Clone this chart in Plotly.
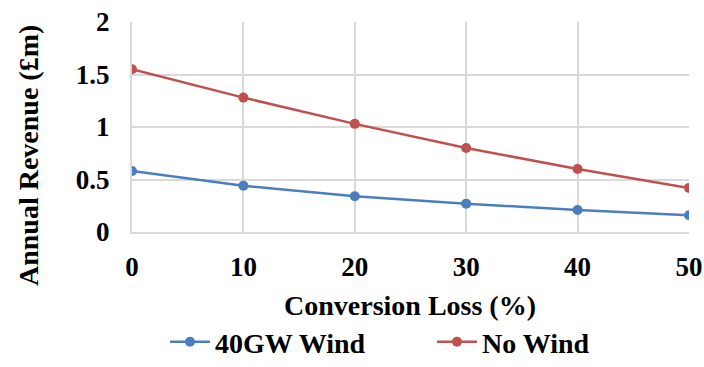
import plotly.graph_objects as go

# conversion loss (%) on the x axis
conversion_loss = [0, 10, 20, 30, 40, 50]
x_tick_labels = ["0", "10", "20", "30", "40", "50"]

# annual revenue (£m) per scenario
wind_40gw = [0.58, 0.44, 0.34, 0.27, 0.21, 0.16]
no_wind = [1.55, 1.28, 1.03, 0.80, 0.60, 0.42]

y_ticks = [0, 0.5, 1, 1.5, 2]
y_tick_labels = ["0", "0.5", "1", "1.5", "2"]

FONT = "Liberation Serif"
BLUE = "#4A7EBF"
RED = "#C0504D"
GRID = "#D9D9D9"

W, H = 704, 367
# plot area in pixels (left, right, top, bottom)
L, R, T, B = 132, 689, 22, 232
PW, PH = R - L, B - T


def px_x(x):
    return (x - L) / PW


def px_y(y):
    return (B - y) / PH


fig = go.Figure()
fig.add_trace(go.Scatter(
    x=conversion_loss, y=wind_40gw, name="<b>40GW Wind</b>",
    mode="lines+markers",
    line=dict(color=BLUE, width=2.5),
    marker=dict(color=BLUE, size=10),
))
fig.add_trace(go.Scatter(
    x=conversion_loss, y=no_wind, name="<b>No Wind</b>",
    mode="lines+markers",
    line=dict(color=RED, width=2.5),
    marker=dict(color=RED, size=10),
))

fig.update_layout(
    width=W, height=H,
    margin=dict(l=L, r=W - R, t=T, b=H - B, autoexpand=False),
    paper_bgcolor="white", plot_bgcolor="white",
    font=dict(family=FONT, color="black", size=27),
    showlegend=True,
    legend=dict(
        orientation="h", x=px_x(165), xanchor="left",
        y=px_y(367), yanchor="bottom",
        font=dict(family=FONT, size=28, color="black"),
        itemwidth=40, tracegroupgap=0,
        entrywidth=212, entrywidthmode="pixels",
    ),
    annotations=[
        dict(text="<b>Annual Revenue (£m)</b>", textangle=-90,
             xref="paper", yref="paper",
             x=px_x(28), y=px_y(156),
             xanchor="center", yanchor="middle", showarrow=False,
             font=dict(family=FONT, size=28, color="black")),
        dict(text="<b>Conversion Loss (%)</b>",
             xref="paper", yref="paper",
             x=px_x(410), y=px_y(305),
             xanchor="center", yanchor="middle", showarrow=False,
             font=dict(family=FONT, size=28, color="black")),
    ],
)
fig.update_xaxes(
    range=[0, 50], tickvals=conversion_loss,
    ticktext=[f"<b>{t}</b>" for t in x_tick_labels],
    showgrid=True, gridcolor=GRID, gridwidth=2,
    showline=True, linecolor=GRID, linewidth=2,
    zeroline=False, ticks="", ticklabelstandoff=10,
    tickfont=dict(family=FONT, size=27, color="black"),
    automargin=False,
)
fig.update_yaxes(
    range=[0, 2.0001], tickvals=y_ticks,
    ticktext=[f"<b>{t}</b>" for t in y_tick_labels],
    showgrid=True, gridcolor=GRID, gridwidth=2,
    showline=True, linecolor=GRID, linewidth=2,
    zeroline=False, ticks="", ticklabelstandoff=15,
    tickfont=dict(family=FONT, size=27, color="black"),
    automargin=False,
)

# the page body has a default 8px margin; drop it so the figure fills the window
fig.write_html(
    "out.html",
    config={"displayModeBar": False},
    post_script="document.body.style.margin = '0';",
)
